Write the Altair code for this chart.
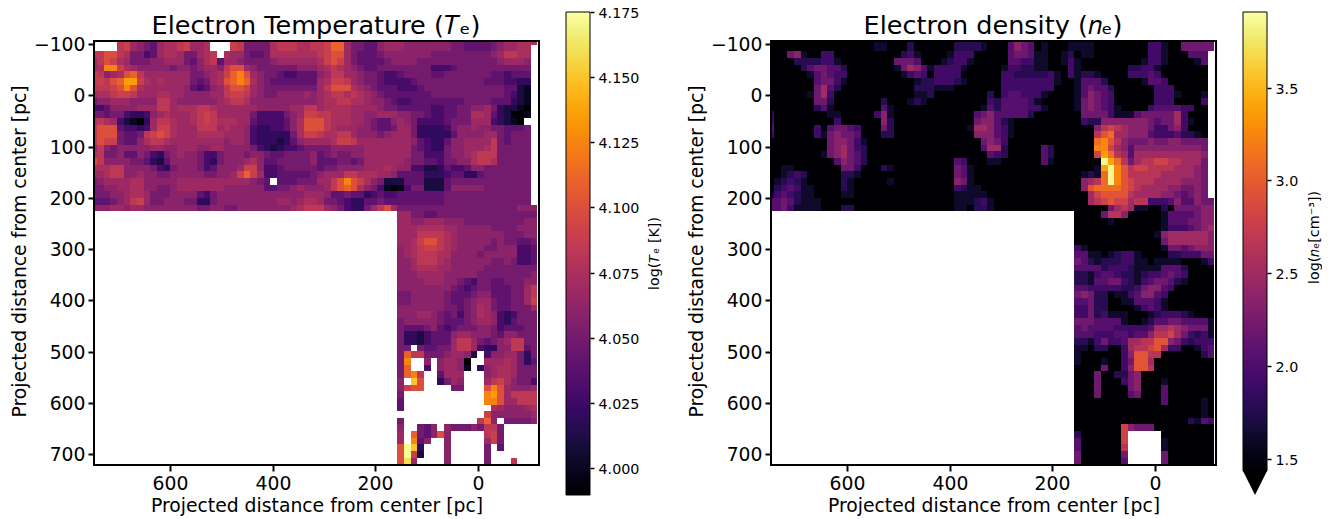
import altair as alt
import pandas as pd

FONT = "DejaVu Sans"
x_ticks = [600, 400, 200, 0]
y_ticks = [-100, 0, 100, 200, 300, 400, 500, 600, 700]
te_ticks = [4.000, 4.025, 4.050, 4.075, 4.100, 4.125, 4.150, 4.175]
ne_ticks = [1.5, 2.0, 2.5, 3.0, 3.5]
codes = "0123456789abcdefghi"
te_levels = [3.99, 4.00, 4.01, 4.02, 4.03, 4.04, 4.05, 4.06, 4.068, 4.075, 4.083, 4.09, 4.10, 4.11, 4.125, 4.135, 4.15, 4.16, 4.172]
ne_levels = [1.40, 1.62, 1.78, 1.92, 2.05, 2.2, 2.35, 2.5, 2.65, 2.8, 2.95, 3.1, 3.25, 3.4, 3.55, 3.7, 3.85, 3.9, 3.9]

te_upper = [
"....ab8765 899ab889.. .ba66669aa a99aabdd86 6557888777 7777665555 6788999",
"....ab8765 899ab889.. .ba66669aa a99aabdd86 6557888777 7777665555 678899.",
"aacca96645 89986689a. 9886556999 9999abcc86 5556777777 7666666666 78aa99.",
"8acb986667 78886579a5 8876666788 88889bcb86 5555677776 6666666666 678887.",
"89eeb98777 7767767887 acc8766666 677789a987 6556666666 6444566666 666666.",
"ba789cda88 8888866789 bdec876654 455578aa88 7665445666 6556666666 554555.",
"abacdffb98 9888865689 cded976555 555589bba8 7665444456 6666666665 554433.",
"aaabcec988 8888754578 accb876666 66668accc9 8765554445 6666666666 665521.",
"899abba888 9988777788 abba876677 778789aa9a 9876555555 5666666666 665421.",
"6778887777 aa87777778 9aa9777777 7777899aa9 9877654455 5555556666 555321.",
"4457777888 aa8999aa98 8888877777 88aa899998 8887665555 5445566778 632210.",
"6656643347 898889aba8 8888644446 78bbaa9998 8778887766 5445566998 532001.",
"9a98421038 aa9889aba9 9988544445 79ccca9998 8765578764 4445666888 43210..",
"accc544348 bb9888aaa8 9887433445 79ccca9888 7765568863 3334677877 665556.",
"accc6556ab cb98889999 8887433333 69bba99aa8 7776788863 3333577778 865666.",
"acbb65579a a988888888 7887433323 5788889bba 8888888875 4335778888 a65666.",
"8a76777778 8778887788 7777643234 4566667777 7888888865 4336778889 a66666.",
"9a66755764 3678776446 7776776556 6667567667 7888888866 44467789aa a66666.",
"ca77776653 2577776436 7778975566 6667555665 6888888766 55466779aa 966666.",
"999aa77776 4367776457 778bb74456 6666566777 7888987744 2235445776 666666.",
"889aa77877 6677777667 78bdb84455 55567888aa 9998875555 3334553356 666666.",
"6788889977 7778888888 8888765.55 566688acec b976222555 2225666666 666666.",
"6677889977 6678888888 7777775566 787778acdc 9764101466 2225777776 666666.",
"6667789986 6677775467 7777777777 7788875565 5345445555 5556666666 666666.",
"555678ab86 6777663367 7777777788 7899866543 3556555555 5556666666 666666.",
"7778878877 7777776677 6677777777 89aaa87643 368ac86666 6666666666 6666777",
]
te_lower = [
"8866556666 66666666666",
"8877888777 66666666677",
"8889999887 77776666777",
"888aaaa987 77777766677",
"889bcca987 77776766556",
"789abba987 77766777445",
"789aaa9977 77677777445",
"778aaa9877 77776676445",
"7789998877 77766666666",
"7778888777 77666666667",
"7777888776 54665566677",
"7777777765 4566555668a",
"6677777655 5677555668a",
"6677777655 6788655668b",
"7777777665 67986556668",
"7778876564 67987434666",
"6777776555 67887435666",
"6555675456 66776455566",
"6332455578 87776577666",
"633245558a a865678aa66",
"66.655668a a843377aa56",
"6daa666788 72.47788636",
"6e..7.7887 0..88898635",
"6d..4.7887 1.378998666",
"6dea..5888 ...78998666",
"7.gc..3687 ...8ab97664",
"7bcc....66 ...cec87778",
"6......... ...efc8aaaa",
"5......... ...eec88aaa",
"5......... ....9877789",
".......... ...b7777778",
"6......... ..ad7.66667",
"7..657.766 676aa6.....",
"8.d657c7.. ...ab6.....",
"8.e57..7.. ...8b6.....",
"cig3...7.. ...6.5.....",
"cib2...7.. ...6.......",
"ch8....7.. ...6...a...",
]
ne_upper = [
"0000000000 0000001100 0200000022 2210004654 0100011110 0000000331 0055555",
"0000000000 0000001100 0200000022 2210004654 0100011110 0000000331 0055555",
"0005610033 0000000000 2310000133 3000004554 1100120110 0000000331 000444.",
"0000222233 1000000005 5540001233 1000004433 1100131000 0000001331 000014.",
"0000024554 4200000001 5764133331 0000013322 1100031000 0000223310 000000.",
"0000001454 3300000000 1343033330 0000033222 2231031221 0000333430 000000.",
"0000000455 3100000000 0012233321 0000033333 3331001444 2000001443 000000.",
"0000000574 2000000000 0022211100 0000033333 3330001454 4200000033 300000.",
"0000001573 0000000000 0011200000 0002034433 3100001465 4300000033 310001.",
"0000000552 0000000200 0121000000 0003244443 1000001565 4300000033 300003.",
"0000000241 0000000410 0000000000 0014244443 3100001565 4310000344 443300.",
"2000000001 1000003610 0000000000 0456444442 0000000555 5311145555 573000.",
"3000000000 3000000620 0000000000 0566421000 0000000322 6666666545 573100.",
"4000000304 5543000520 0000000000 1776431000 0000000006 8987666533 563000.",
"3000000315 6554000220 0000000000 0666431000 0000000008 ab77666433 342210.",
"0000000005 6653100000 0000000000 0056530000 000000000b ca86555655 665555.",
"0000000005 6753200000 0000000000 0047720000 042000000c c976466666 666665.",
"0000000015 6754200000 0000000000 0004320000 0420000009 db87477777 777776.",
"0000000000 4654200000 0000000043 0001100000 0410000000 gdb8578899 887775.",
"0011000000 0553000210 0000000054 1000000000 0000000001 dgca899888 877765.",
"0012320000 0221000000 0000000054 1000000000 0000000121 bgca888887 777765.",
"0123210000 0210000010 0000000065 1000000000 0000000678 bgca988877 776665.",
"0234311000 0210000000 0000000032 1100000000 00000006ab bbba987777 665565.",
"1343211000 0110000000 0000000011 1110000000 0000000079 aaaa877776 654565.",
"4454211100 0000000000 0000000011 1231000000 0000000078 9a99788333 4644655",
"4453111100 0220000000 0000000011 0221000000 0000000000 0578711002 0555566",
]
ne_lower = [
"0000588600 00014444566",
"0000010000 00014445566",
"0000000000 00013334567",
"0000000000 00167777776",
"0000000000 00057777776",
"3100000000 00015545666",
"4411012331 00002233355",
"5421222331 10111100013",
"4444233321 11144420000",
"2213443221 23345430000",
"2214455321 34554210000",
"4433333223 56643000000",
"5652201134 66430000000",
"4452200114 44310000000",
"3352200001 34310000000",
"3352311100 01233321000",
"5554444100 12445544441",
"4544443333 34778765551",
"4443334434 46889753231",
"2213533477 88aa6532333",
"1102200378 89a73300134",
"100000036a a8800000024",
"100010035a a7000000000",
"000050036a a8000000000",
"0005002256 00000000000",
"0005000356 00010000000",
"0005000056 00040000000",
"0005000045 00040000000",
"0000000000 00040000010",
"0000000000 00000000010",
"0000000000 00000000010",
"0000000000 00000002143",
"0000000965 55000000000",
"20000009.. ...00000000",
"40000009.. ...10000000",
"40000008.. ...10000000",
"50000005.. ...50000000",
"50000004.. ...50000000",
]

X_LEFT, X_RIGHT = 748, -119
Y_TOP, Y_BOTTOM = -106, 721
CELL = 13.0
EDGE_X, EDGE_Y = 157.2, 226.0
PANEL_H = 483
RANGE_Y = [29, 453]
LEFT_BLANK = "." * 46
AXF = 18.8
CBF = 14.3
TITLE_F = 25.5


def cells(upper, lower, levels):
    rows = [r.replace(" ", "") for r in upper] + [LEFT_BLANK + r.replace(" ", "") for r in lower]
    out = []
    for r, row in enumerate(rows):
        assert len(row) == 67, (r, len(row))
        for c, ch in enumerate(row):
            if ch == ".":
                continue
            x1 = EDGE_X + (46 - c) * CELL
            y1 = EDGE_Y + (r - 26) * CELL
            out.append({"x": x1, "x2": x1 - CELL, "y": y1, "y2": y1 + CELL,
                        "v": levels[codes.index(ch)]})
    return pd.DataFrame(out)


def panel(df, domain, title_text):
    xs = alt.Scale(domain=[X_LEFT, X_RIGHT], clamp=True, nice=False, zero=False, round=True)
    ys = alt.Scale(domain=[Y_TOP, Y_BOTTOM], range=RANGE_Y, clamp=True, nice=False, zero=False, round=True)
    xax = alt.Axis(values=x_ticks, title="Projected distance from center [pc]", offset=-(PANEL_H - RANGE_Y[1]),
                   grid=False, domain=False, tickColor="black", tickWidth=2, tickSize=6, labelFontSize=AXF,
                   titleFontSize=AXF, labelFont=FONT, titleFont=FONT, labelColor="#000", titleColor="#000",
                   titleFontWeight="normal", labelPadding=3, titlePadding=4, labelFlush=False)
    yax = alt.Axis(values=y_ticks, title="Projected distance from center [pc]",
                   grid=False, domain=False, tickColor="black", tickWidth=2, tickSize=6, labelFontSize=AXF,
                   titleFontSize=AXF, labelFont=FONT, titleFont=FONT, labelColor="#000", titleColor="#000",
                   titleFontWeight="normal", labelPadding=3, titlePadding=4, labelFlush=False, titleY=239)
    rects = alt.Chart(df).mark_rect(strokeWidth=0).encode(
        x=alt.X("x:Q", scale=xs, axis=xax), x2="x2:Q",
        y=alt.Y("y:Q", scale=ys, axis=yax), y2="y2:Q",
        color=alt.Color("v:Q", scale=alt.Scale(scheme="inferno", domain=domain, clamp=True), legend=None),
    )
    frame = alt.Chart(pd.DataFrame({"x": [X_LEFT], "x2": [X_RIGHT], "y": [Y_TOP], "y2": [Y_BOTTOM]})).mark_rect(
        filled=False, stroke="black", strokeWidth=2).encode(x="x:Q", x2="x2:Q", y="y:Q", y2="y2:Q")
    title = alt.Chart(pd.DataFrame({"t": [title_text]})).mark_text(
        font=FONT, fontSize=TITLE_F, baseline="alphabetic", align="center", color="#000").encode(
        text="t:N", x=alt.value(222), y=alt.value(22))
    return alt.layer(rects, frame, title).properties(width=445, height=PANEL_H)


def colorbar(lo, hi, bottom, ticks, label, fmt, title_x, title_y):
    n = 128
    step = (hi - lo) / n
    grad = pd.DataFrame({"y": [lo + i * step for i in range(n)], "y2": [lo + (i + 1) * step for i in range(n)],
                         "v": [lo + (i + 0.5) * step for i in range(n)]})
    ys = alt.Scale(domain=[bottom, hi], nice=False, zero=False, round=True)
    xs = alt.Scale(domain=[0, 1], nice=False)
    ax = alt.Axis(values=ticks, orient="right", title=label, format=fmt, grid=False, domain=False, tickColor="black",
                  tickWidth=1.5, tickSize=4, labelFontSize=CBF, titleFontSize=CBF, labelFont=FONT, titleFont=FONT,
                  labelColor="#000", titleColor="#000", titleFontWeight="normal", labelPadding=4, titlePadding=6,
                  titleAngle=270, titleX=title_x, titleY=title_y, labelFlush=False, labelOffset=1.5)
    xax = alt.X("x0:Q", scale=xs, axis=None)
    g = alt.Chart(grad).transform_calculate(x0="0", x1="1").mark_rect(strokeWidth=0).encode(
        x=xax, x2="x1:Q", y=alt.Y("y:Q", scale=ys, axis=ax), y2="y2:Q",
        color=alt.Color("v:Q", scale=alt.Scale(scheme="inferno", domain=[lo, hi]), legend=None))
    outline = alt.Chart(pd.DataFrame({"x0": [0], "x1": [1], "y": [lo], "y2": [hi]})).mark_rect(
        filled=False, stroke="black", strokeWidth=1).encode(x=xax, x2="x1:Q", y="y:Q", y2="y2:Q")
    layers = [g, outline]
    if bottom < lo:
        tri = alt.Chart(pd.DataFrame({"x0": [0, 0.5, 1], "y": [lo, bottom, lo], "y2": [lo, lo, lo]})).mark_area(
            color="black").encode(x=xax, y="y:Q", y2="y2:Q")
        layers.append(tri)
    return alt.layer(*layers).properties(width=24, height=PANEL_H)


left = panel(cells(te_upper, te_lower, te_levels), [3.99, 4.175], "Electron Temperature (𝑇ₑ)")
right = panel(cells(ne_upper, ne_lower, ne_levels), [1.433, 3.907], "Electron density (𝑛ₑ)")
cb1 = colorbar(3.9897, 4.175, 3.9897, te_ticks, "log(𝑇ₑ [K])", ".3f", 71, 241)
cb2 = colorbar(1.433, 3.907, 1.305, ne_ticks, "log(𝑛ₑ[cm⁻³])", ".1f", 54, 225)

chart = alt.hconcat(
    alt.hconcat(left, cb1, spacing=25).resolve_scale(color="independent"),
    alt.hconcat(right, cb2, spacing=25).resolve_scale(color="independent"),
    spacing=25,
).resolve_scale(color="independent").properties(
    padding={"left": 2, "top": -2, "right": 0, "bottom": 0}).configure_view(stroke=None)

chart.save("out.html", embed_options={"renderer": "svg", "actions": False})
